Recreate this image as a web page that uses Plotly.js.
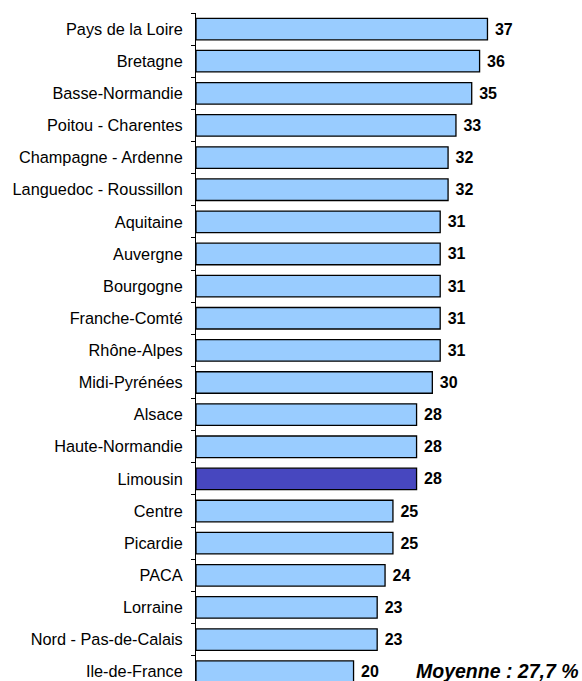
<!DOCTYPE html>
<html>
<head>
<meta charset="utf-8">
<script src="https://cdn.plot.ly/plotly-3.0.1.min.js"></script>
<style>html,body{margin:0;padding:0;background:#fff;}#chart{width:582px;height:681px;}</style>
</head>
<body>
<div id="chart"></div>
<script>
const regions = ["Pays de la Loire","Bretagne","Basse-Normandie","Poitou - Charentes","Champagne - Ardenne","Languedoc - Roussillon","Aquitaine","Auvergne","Bourgogne","Franche-Comté","Rhône-Alpes","Midi-Pyrénées","Alsace","Haute-Normandie","Limousin","Centre","Picardie","PACA","Lorraine","Nord - Pas-de-Calais","Ile-de-France"];
const values = [37,36,35,33,32,32,31,31,31,31,31,30,28,28,28,25,25,24,23,23,20];
const highlight = "Limousin";
const averageLabel = "Moyenne : 27,7 %";

const colors = regions.map(r => r === highlight ? "#4747BF" : "#99CCFF");
const FONT = "Liberation Sans, Arial, sans-serif";

const trace = {
  type: "bar",
  orientation: "h",
  y: regions,
  x: values,
  text: values.map(v => " " + v),
  textposition: "outside",
  cliponaxis: false,
  textfont: {family: FONT, size: 16, color: "#000", weight: "bold"},
  marker: {color: colors, line: {color: "#000", width: 1.3}},
  hoverinfo: "none"
};

const layout = {
  width: 582, height: 681,
  margin: {l: 196, r: 0, t: 13.3, b: 0},
  paper_bgcolor: "#fff", plot_bgcolor: "#fff",
  showlegend: false,
  bargap: 0.33,
  font: {family: FONT, size: 16, color: "#000"},
  xaxis: {range: [0, 49], visible: false, fixedrange: true},
  yaxis: {
    type: "category",
    range: [20.29, -0.5],
    showline: true, linecolor: "#000", linewidth: 1,
    ticks: "outside", ticklen: 4, tickcolor: "#000", tickwidth: 1,
    tickson: "boundaries",
    showgrid: false, zeroline: false,
    ticklabelstandoff: 9,
    tickfont: {family: FONT, size: 16.3, color: "#000"}
  },
  annotations: [{
    xref: "paper", yref: "paper", x: 1, xshift: -1, y: 0, yshift: 10, xanchor: "right", yanchor: "middle",
    text: "<b><i>" + averageLabel + "</i></b>", showarrow: false,
    font: {family: FONT, size: 19.5, color: "#000"}
  }]
};

Plotly.newPlot("chart", [trace], layout, {staticPlot: true, displayModeBar: false});
</script>
</body>
</html>
